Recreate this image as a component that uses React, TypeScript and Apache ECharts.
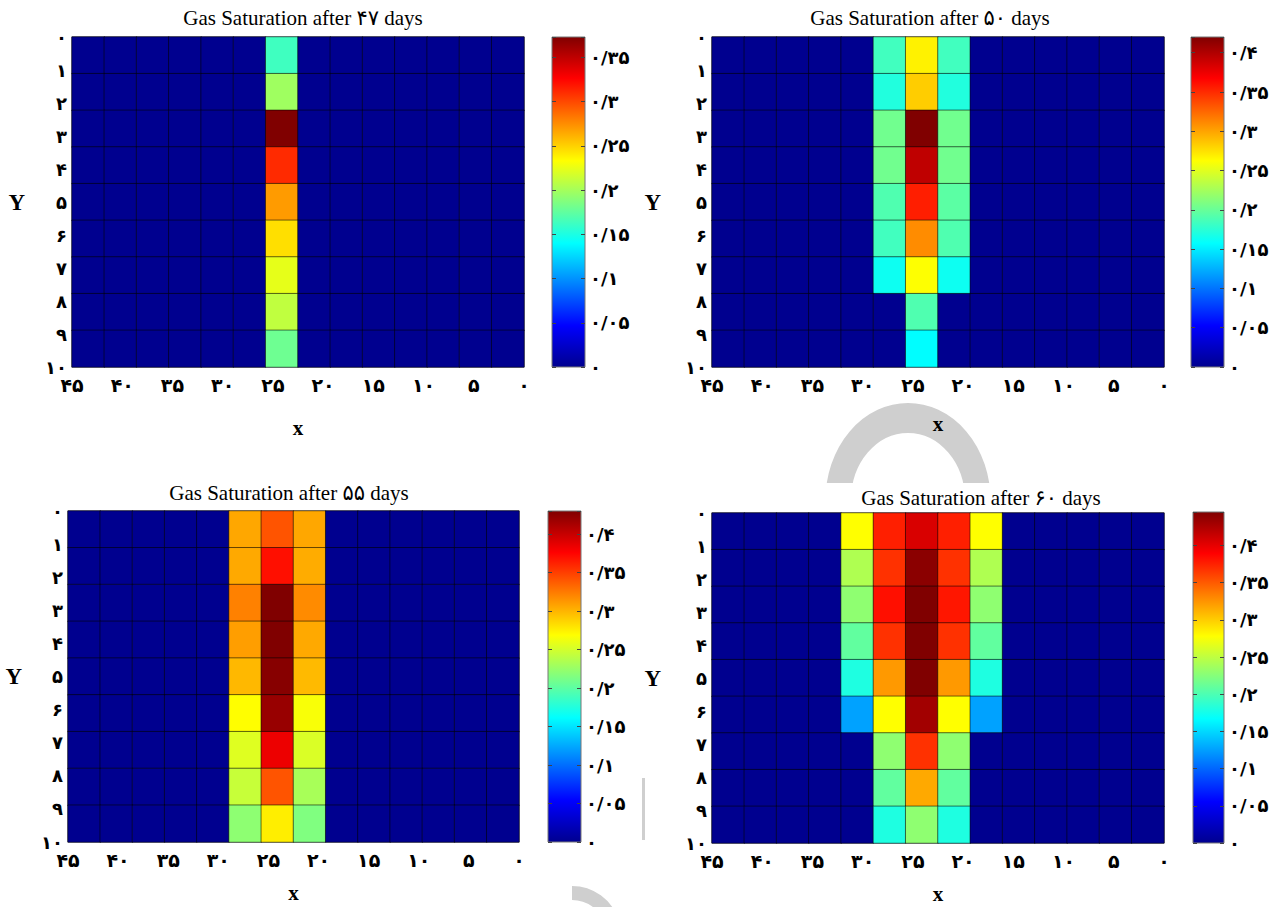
import React, { useEffect, useRef } from "react";
import * as echarts from "echarts";

// ---- data ----
const cellColumns = ["1", "2", "3", "4", "5", "6", "7", "8", "9", "10", "11", "12", "13", "14"];
const cellRows = ["1", "2", "3", "4", "5", "6", "7", "8", "9"];
const dayLabels = ["۴۷", "۵۰", "۵۵", "۶۰"];
const colorMax = [0.373, 0.42, 0.43, 0.445];
const xTickMin = 0;
const xTickMax = 45;
const xTickStep = 5;
const yTickMin = 0;
const yTickMax = 10;
const yTickStep = 1;
const barTickStep = 0.05;

const sat47 = [
  [0, 0, 0, 0, 0, 0, 0.163, 0, 0, 0, 0, 0, 0, 0],
  [0, 0, 0, 0, 0, 0, 0.198, 0, 0, 0, 0, 0, 0, 0],
  [0, 0, 0, 0, 0, 0, 0.373, 0, 0, 0, 0, 0, 0, 0],
  [0, 0, 0, 0, 0, 0, 0.311, 0, 0, 0, 0, 0, 0, 0],
  [0, 0, 0, 0, 0, 0, 0.27, 0, 0, 0, 0, 0, 0, 0],
  [0, 0, 0, 0, 0, 0, 0.245, 0, 0, 0, 0, 0, 0, 0],
  [0, 0, 0, 0, 0, 0, 0.224, 0, 0, 0, 0, 0, 0, 0],
  [0, 0, 0, 0, 0, 0, 0.21, 0, 0, 0, 0, 0, 0, 0],
  [0, 0, 0, 0, 0, 0, 0.18, 0, 0, 0, 0, 0, 0, 0],
];

const sat50 = [
  [0, 0, 0, 0, 0, 0.184, 0.268, 0.184, 0, 0, 0, 0, 0, 0],
  [0, 0, 0, 0, 0, 0.171, 0.283, 0.171, 0, 0, 0, 0, 0, 0],
  [0, 0, 0, 0, 0, 0.204, 0.42, 0.204, 0, 0, 0, 0, 0, 0],
  [0, 0, 0, 0, 0, 0.204, 0.394, 0.204, 0, 0, 0, 0, 0, 0],
  [0, 0, 0, 0, 0, 0.19, 0.355, 0.195, 0, 0, 0, 0, 0, 0],
  [0, 0, 0, 0, 0, 0.184, 0.31, 0.19, 0, 0, 0, 0, 0, 0],
  [0, 0, 0, 0, 0, 0.163, 0.262, 0.163, 0, 0, 0, 0, 0, 0],
  [0, 0, 0, 0, 0, 0, 0.19, 0, 0, 0, 0, 0, 0, 0],
  [0, 0, 0, 0, 0, 0, 0.157, 0, 0, 0, 0, 0, 0, 0],
];

const sat55 = [
  [0, 0, 0, 0, 0, 0.306, 0.341, 0.306, 0, 0, 0, 0, 0, 0],
  [0, 0, 0, 0, 0, 0.305, 0.37, 0.304, 0, 0, 0, 0, 0, 0],
  [0, 0, 0, 0, 0, 0.322, 0.43, 0.318, 0, 0, 0, 0, 0, 0],
  [0, 0, 0, 0, 0, 0.31, 0.43, 0.305, 0, 0, 0, 0, 0, 0],
  [0, 0, 0, 0, 0, 0.299, 0.427, 0.298, 0, 0, 0, 0, 0, 0],
  [0, 0, 0, 0, 0, 0.269, 0.42, 0.266, 0, 0, 0, 0, 0, 0],
  [0, 0, 0, 0, 0, 0.255, 0.384, 0.253, 0, 0, 0, 0, 0, 0],
  [0, 0, 0, 0, 0, 0.245, 0.341, 0.232, 0, 0, 0, 0, 0, 0],
  [0, 0, 0, 0, 0, 0.221, 0.276, 0.215, 0, 0, 0, 0, 0, 0],
];

const sat60 = [
  [0, 0, 0, 0, 0.278, 0.376, 0.406, 0.376, 0.278, 0, 0, 0, 0, 0],
  [0, 0, 0, 0, 0.243, 0.368, 0.44, 0.368, 0.243, 0, 0, 0, 0, 0],
  [0, 0, 0, 0, 0.229, 0.383, 0.445, 0.38, 0.229, 0, 0, 0, 0, 0],
  [0, 0, 0, 0, 0.209, 0.368, 0.445, 0.368, 0.209, 0, 0, 0, 0, 0],
  [0, 0, 0, 0, 0.18, 0.323, 0.445, 0.323, 0.18, 0, 0, 0, 0, 0],
  [0, 0, 0, 0, 0.126, 0.278, 0.43, 0.278, 0.126, 0, 0, 0, 0, 0],
  [0, 0, 0, 0, 0, 0.229, 0.368, 0.229, 0, 0, 0, 0, 0, 0],
  [0, 0, 0, 0, 0, 0.209, 0.316, 0.209, 0, 0, 0, 0, 0, 0],
  [0, 0, 0, 0, 0, 0.18, 0.229, 0.18, 0, 0, 0, 0, 0, 0],
];

const panelValues = [sat47, sat50, sat55, sat60];

// ---- styles / layout ----
const jetColors = ["#00008F", "#0000FF", "#0080FF", "#00FFFF", "#80FF80", "#FFFF00", "#FF8000", "#FF0000", "#800000"];

const layouts = [
  { main: [72, 37, 452, 330], bar: [552, 37, 33, 330], title: [303, 18], xGap: 50, yGap: 47 },
  { main: [712, 37, 452, 330], bar: [1191, 37, 33, 330], title: [930, 18], xGap: 46, yGap: 51 },
  { main: [68, 511, 451, 331], bar: [548, 511, 33, 331], title: [289, 493], xGap: 40, yGap: 46 },
  { main: [712, 513, 452, 330], bar: [1193, 512, 31, 331], title: [981, 498], xGap: 40, yGap: 51 },
];

const persianDigits = "۰۱۲۳۴۵۶۷۸۹";
function toPersian(v: number): string {
  const s = String(Math.round(v * 100) / 100);
  return s.replace(/[0-9]/g, (d) => persianDigits[+d]).replace(".", "/");
}

const digitFont = '"DejaVu Sans", sans-serif';
const serifFont = '"Liberation Serif", "Times New Roman", "DejaVu Sans", serif';
const watermark = "#cfcfcf";

function buildOption() {
  const option: any = {
    animation: false,
    backgroundColor: "#ffffff",
    grid: [],
    xAxis: [],
    yAxis: [],
    visualMap: [],
    series: [],
    graphic: [
      // faint watermark fragments from the scanned source
      {
        type: "arc", x: 908, y: 500, scaleX: 0.85, silent: true, z: -10,
        shape: { cx: 0, cy: 0, r: 82, startAngle: Math.PI, endAngle: 2 * Math.PI },
        style: { stroke: watermark, lineWidth: 30, fill: "none" },
      },
      {
        type: "rect", silent: true, z: -5,
        shape: { x: 825, y: 483, width: 308, height: 29 },
        style: { fill: "#ffffff" },
      },
      {
        type: "rect", silent: true, z: -10,
        shape: { x: 642, y: 778, width: 3, height: 62 },
        style: { fill: watermark },
      },
      {
        type: "arc", x: 572, y: 935, silent: true, z: -10,
        shape: { cx: 0, cy: 0, r: 42, startAngle: -Math.PI * 0.5, endAngle: -Math.PI * 0.1 },
        style: { stroke: watermark, lineWidth: 14, fill: "none" },
      },
    ],
  };
  const gradient = {
    type: "linear",
    x: 0,
    y: 1,
    x2: 0,
    y2: 0,
    colorStops: jetColors.map((c, k) => ({ offset: k / (jetColors.length - 1), color: c })),
  };
  const labelStyle = { fontFamily: digitFont, fontWeight: "bold", fontSize: 18, color: "#000" };

  layouts.forEach((p, i) => {
    const mainGrid = option.grid.length;
    option.grid.push({
      left: p.main[0], top: p.main[1], width: p.main[2], height: p.main[3],
      show: true, borderColor: "rgba(60,60,80,0.8)", borderWidth: 1, backgroundColor: "transparent",
      containLabel: false, outerBoundsMode: "none",
    });
    const barGrid = option.grid.length;
    option.grid.push({
      left: p.bar[0], top: p.bar[1], width: p.bar[2], height: p.bar[3],
      show: true, backgroundColor: gradient, borderColor: "#777", borderWidth: 1,
      containLabel: false, outerBoundsMode: "none",
    });

    const xCat = option.xAxis.length;
    option.xAxis.push({ type: "category", gridIndex: mainGrid, data: cellColumns, position: "top", show: false });
    option.xAxis.push({
      type: "value", gridIndex: mainGrid, position: "bottom",
      min: xTickMin, max: xTickMax, interval: xTickStep, inverse: true,
      axisLine: { show: false }, axisTick: { show: false }, splitLine: { show: false },
      axisLabel: { ...labelStyle, fontSize: 19, margin: 8, formatter: (v: number) => toPersian(v) },
      name: "x", nameLocation: "middle", nameGap: p.xGap,
      nameTextStyle: { fontFamily: serifFont, fontWeight: "bold", fontSize: 21, color: "#000" },
    });
    option.xAxis.push({ type: "category", gridIndex: barGrid, data: [""], show: false });

    const yCat = option.yAxis.length;
    option.yAxis.push({ type: "category", gridIndex: mainGrid, data: cellRows, inverse: true, position: "right", show: false });
    option.yAxis.push({
      type: "value", gridIndex: mainGrid, position: "left",
      min: yTickMin, max: yTickMax, interval: yTickStep, inverse: true,
      axisLine: { show: false }, axisTick: { show: false }, splitLine: { show: false },
      axisLabel: { ...labelStyle, margin: 5, formatter: (v: number) => toPersian(v) },
      name: "Y", nameLocation: "middle", nameGap: p.yGap, nameRotate: 0,
      nameTextStyle: { fontFamily: serifFont, fontWeight: "bold", fontSize: 23, color: "#000" },
    });
    const barFormatter = (v: number) => {
      const k = v / barTickStep;
      return Math.abs(k - Math.round(k)) < 1e-6 ? toPersian(v) : "";
    };
    option.yAxis.push({
      type: "value", gridIndex: barGrid, position: "right",
      min: 0, max: colorMax[i], interval: barTickStep,
      axisLine: { show: false }, splitLine: { show: false },
      axisTick: { show: true, inside: true, length: 4, lineStyle: { color: "#444", width: 1 } },
      axisLabel: { ...labelStyle, margin: 5, formatter: barFormatter },
    });
    option.yAxis.push({
      type: "value", gridIndex: barGrid, position: "left",
      min: 0, max: colorMax[i], interval: barTickStep,
      axisLine: { show: false }, splitLine: { show: false },
      axisTick: { show: true, inside: true, length: 4, lineStyle: { color: "#444", width: 1 } },
      axisLabel: { show: false },
    });

    const values = panelValues[i];
    const data: number[][] = [];
    values.forEach((row, r) => row.forEach((v, c) => data.push([c, r, v])));
    option.series.push({
      type: "heatmap", xAxisIndex: xCat, yAxisIndex: yCat, data,
      itemStyle: { borderColor: "rgba(0,0,0,0.55)", borderWidth: 1 },
      emphasis: { disabled: true }, silent: true,
    });
    option.visualMap.push({
      type: "continuous", seriesIndex: i, dimension: 2, min: 0, max: colorMax[i],
      inRange: { color: jetColors }, show: false,
    });
    option.graphic.push({
      type: "text", x: p.title[0], y: p.title[1], silent: true, z: 10,
      style: {
        text: `Gas Saturation after ${dayLabels[i]} days`,
        fontFamily: serifFont, fontSize: 21, fill: "#000",
        align: "center", verticalAlign: "middle",
      },
    });
  });
  return option;
}

export default function App() {
  const ref = useRef<HTMLDivElement>(null);
  useEffect(() => {
    if (!ref.current) return;
    const chart = echarts.init(ref.current, undefined, { renderer: "svg" });
    chart.setOption(buildOption());
    return () => chart.dispose();
  }, []);
  return (
    <div
      ref={ref}
      style={{ position: "absolute", left: 0, top: 0, width: 1273, height: 907, background: "#fff" }}
    />
  );
}
